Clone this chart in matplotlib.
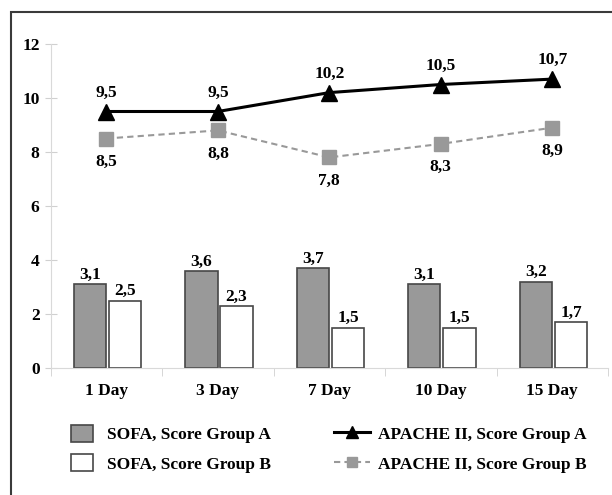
import numpy as np
import matplotlib
matplotlib.use("Agg")
import matplotlib.pyplot as plt
from matplotlib.patches import Rectangle

plt.rcParams["font.family"] = ["Liberation Serif", "DejaVu Serif"]
plt.rcParams["font.weight"] = "bold"

days = ["1 Day", "3 Day", "7 Day", "10 Day", "15 Day"]
sofa_a = [3.1, 3.6, 3.7, 3.1, 3.2]
sofa_b = [2.5, 2.3, 1.5, 1.5, 1.7]
apache_a = [9.5, 9.5, 10.2, 10.5, 10.7]
apache_b = [8.5, 8.8, 7.8, 8.3, 8.9]


def fmt(v):
    return f"{v:.1f}".replace(".", ",")


fig = plt.figure(figsize=(6.12, 4.95), dpi=100)
ax = fig.add_axes([50.7 / 612, 1 - 368 / 495, (608 - 50.7) / 612, (368 - 44) / 495])

x = np.arange(len(days))
w = 0.29
grey = "#999999"
edge = "#474747"
fs = 12.5

ba = ax.bar(x - 0.148, sofa_a, w, color=grey, edgecolor=edge, linewidth=1.2,
            label="SOFA, Score Group A", zorder=2)
bb = ax.bar(x + 0.168, sofa_b, w, color="white", edgecolor=edge, linewidth=1.2,
            label="SOFA, Score Group B", zorder=2)

la, = ax.plot(x, apache_a, color="black", lw=2.2, marker="^", ms=11,
              label="APACHE II, Score Group A", zorder=3)
lb, = ax.plot(x, apache_b, color=grey, lw=1.5, ls=(0, (3, 2)), marker="s", ms=9.5,
              label="APACHE II, Score Group B", zorder=3)

for xi, v in zip(x, sofa_a):
    ax.annotate(fmt(v), (xi - 0.148, v), xytext=(0, 1), textcoords="offset points",
                ha="center", va="bottom", fontsize=fs)
for xi, v in zip(x, sofa_b):
    ax.annotate(fmt(v), (xi + 0.168, v), xytext=(0, 1), textcoords="offset points",
                ha="center", va="bottom", fontsize=fs)
for xi, v in zip(x, apache_a):
    ax.annotate(fmt(v), (xi, v), xytext=(0, 8), textcoords="offset points",
                ha="center", va="bottom", fontsize=fs)
for xi, v in zip(x, apache_b):
    ax.annotate(fmt(v), (xi, v), xytext=(0, -11), textcoords="offset points",
                ha="center", va="top", fontsize=fs)

ax.set_xlim(-0.5, len(days) - 0.5)
ax.set_ylim(0, 12)
ax.set_yticks(range(0, 13, 2))
ax.set_xticks(x)
ax.set_xticklabels(days)
ax.set_xticks(np.arange(-0.5, len(days)), minor=True)
ax.tick_params(axis="x", which="major", length=0, pad=11, labelsize=fs)
ax.tick_params(axis="x", which="minor", length=6, color="#d0d0d0", direction="out")
ax.tick_params(axis="y", length=8, color="#d0d0d0", pad=4, labelsize=fs,
               direction="inout")

for s in ("top", "right"):
    ax.spines[s].set_visible(False)
ax.spines["left"].set_color("#d9d9d9")
ax.spines["bottom"].set_color("#d9d9d9")

fig.legend(handles=[ba, bb], loc="upper left",
           bbox_to_anchor=(71.4 / 612, 1 - 425 / 495), borderpad=0,
           borderaxespad=0, frameon=False, handlelength=1.27, handleheight=1.15,
           handletextpad=0.78, labelspacing=0.62,
           prop={"weight": "bold", "size": fs})
fig.legend(handles=[la, lb], loc="upper left",
           bbox_to_anchor=(333.7 / 612, 1 - 425 / 495), borderpad=0,
           borderaxespad=0, frameon=False, handlelength=2.07, handleheight=1.15,
           handletextpad=0.5, labelspacing=0.62, markerscale=0.75,
           prop={"weight": "bold", "size": fs})

# outer frame, cut off on the right and bottom
fig.patches.append(Rectangle((11 / 612, -0.1), 2, 1.1 - 12 / 495, transform=fig.transFigure,
                             fill=False, edgecolor="#3a3a3a", lw=1.5))

fig.savefig("out.png", dpi=100)
